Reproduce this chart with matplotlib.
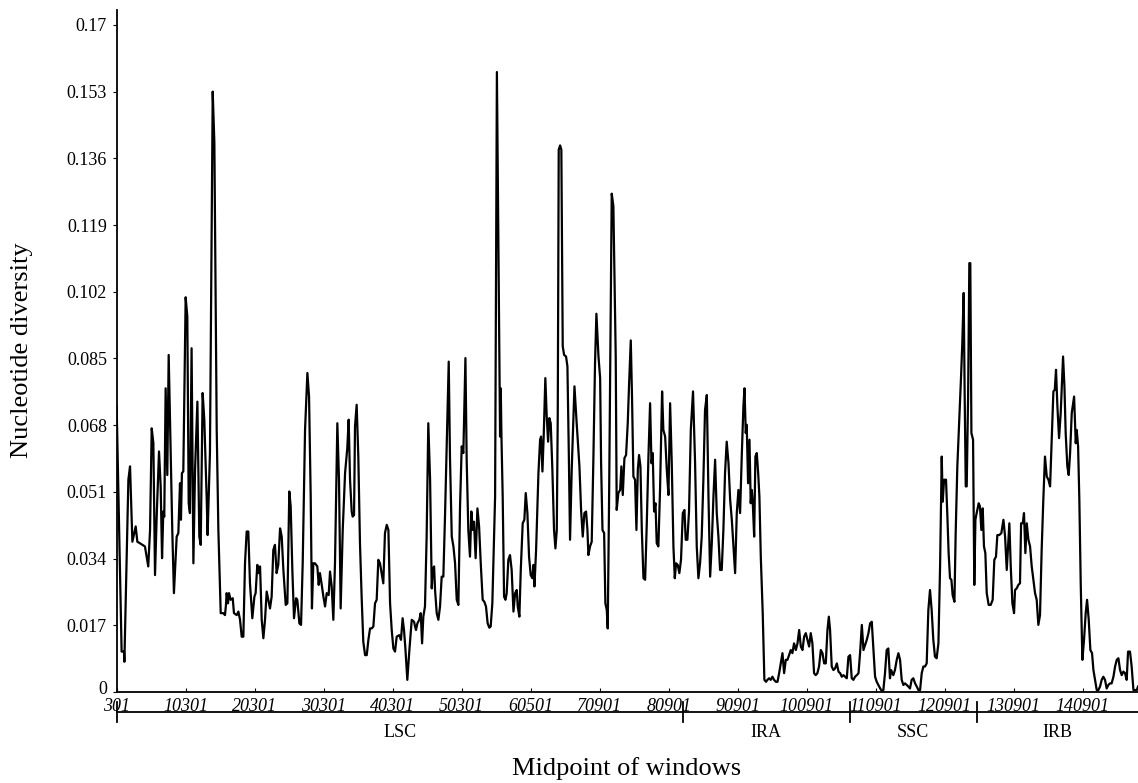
import matplotlib
matplotlib.use("Agg")
import matplotlib.pyplot as plt
import matplotlib.transforms as mtransforms

plt.rcParams['font.family'] = ['Liberation Serif', 'DejaVu Serif']

# window index (step = one sliding window) and nucleotide diversity (Pi)
window = [
    0, 3.6, 5.3, 5.6, 8.5, 9.7, 11.4, 12.8, 13.8, 15.0, 16.9, 20.5, 21.7, 22.9, 24.2, 25.4, 26.6, 27.8, 29.0, 30.7,
    31.9, 32.9, 33.8, 34.5, 35.5, 36.7, 37.7, 39.1, 40.3, 41.5, 43.5, 44.7, 45.9, 46.6, 47.3, 48.3, 50.0, 51.2, 52.2, 53.1,
    54.3, 55.6, 56.8, 58.5, 59.9, 60.9, 62.3, 63.5, 65.2, 65.9, 67.6, 69.6, 70.8, 72.5, 73.7, 75.4, 77.3, 78.5, 79.2, 79.7,
    80.7, 81.4, 82.6, 84.1, 85.0, 87.0, 88.2, 89.4, 90.6, 91.8, 93.0, 94.2, 95.4, 96.6, 98.3, 99.8, 100.7, 101.9, 102.9, 103.9,
    105.1, 106.3, 107.5, 108.7, 109.9, 111.1, 112.3, 113.5, 114.7, 115.9, 117.1, 118.4, 119.6, 120.8, 122.5, 123.7, 125.1, 126.1, 127.3, 128.5,
    130.0, 130.9, 132.4, 133.6, 134.8, 136.5, 138.2, 139.4, 140.6, 141.5, 142.5, 143.7, 145.4, 146.4, 147.3, 148.6, 149.8, 151.0, 152.2, 153.6,
    154.6, 155.8, 157.0, 158.2, 159.9, 161.1, 162.3, 163.8, 165.5, 167.1, 168.1, 169.1, 170.3, 171.0, 172.0, 172.7, 173.9, 175.1, 176.3, 177.5,
    178.7, 180.0, 181.2, 182.4, 183.6, 184.8, 186.0, 187.2, 188.4, 189.6, 190.8, 192.0, 193.2, 194.4, 195.7, 196.9, 198.1, 199.3, 200.5, 201.7,
    202.9, 204.8, 206.0, 207.2, 208.2, 209.2, 210.6, 212.1, 213.8, 215.5, 216.2, 216.9, 217.9, 219.3, 220.3, 221.3, 222.2, 223.4, 224.6, 225.8,
    227.1, 228.3, 229.0, 230.0, 230.7, 231.9, 233.1, 234.3, 235.5, 236.7, 237.9, 239.1, 240.6, 241.5, 242.8, 244.0, 245.2, 246.4, 247.6, 248.8,
    250.0, 251.2, 252.7, 253.6, 254.8, 256.0, 257.0, 258.0, 258.9, 260.1, 261.4, 262.6, 263.8, 265.2, 266.4, 267.6, 268.8, 270.0, 271.0, 272.2,
    274.2, 275.5, 277.8, 278.3, 278.8, 279.7, 280.7, 281.7, 282.6, 283.8, 285.0, 286.2, 287.5, 288.7, 289.9, 290.6, 291.8, 292.8, 294.2, 295.4,
    296.4, 297.6, 298.8, 300.0, 301.2, 302.0, 302.7, 303.9, 305.6, 306.8, 307.5, 308.5, 309.4, 310.6, 311.6, 312.6, 313.5, 314.5, 315.7, 316.9,
    317.9, 318.9, 319.6, 320.3, 321.3, 322.2, 323.2, 324.2, 325.6, 326.6, 327.6, 328.5, 329.7, 331.7, 333.3, 335.3, 336.5, 337.7, 338.9, 340.1,
    341.1, 341.8, 343.0, 344.2, 345.4, 346.6, 347.6, 349.1, 350.3, 351.0, 352.0, 353.2, 354.1, 355.1, 355.8, 356.8, 358.7, 359.9, 361.6, 362.3,
    363.5, 364.8, 365.7, 366.7, 367.9, 369.1, 370.3, 371.3, 372.5, 373.4, 374.4, 375.6, 376.6, 377.6, 378.5, 379.5, 380.5, 381.7, 382.9, 384.1,
    385.3, 386.5, 387.5, 388.4, 389.4, 390.4, 391.3, 392.5, 393.7, 395.2, 396.1, 397.4, 398.6, 399.8, 401.0, 402.2, 403.4, 404.4, 405.3, 406.5,
    407.7, 408.9, 410.2, 411.4, 412.3, 413.5, 414.7, 416.0, 417.6, 419.1, 420.3, 421.5, 422.7, 423.9, 425.1, 426.3, 427.6, 428.8, 430.0, 431.2,
    432.4, 433.6, 434.8, 436.0, 437.2, 438.4, 439.6, 440.8, 442.0, 443.3, 444.5, 445.7, 446.9, 448.1, 449.3, 450.5, 451.7, 452.9, 454.1, 454.9,
    455.8, 456.5, 457.5, 458.5, 459.4, 460.2, 460.9, 461.9, 462.8, 463.8, 464.8, 465.7, 466.7, 468.1, 469.3, 470.5, 471.5, 472.7, 473.9, 475.1,
    476.3, 477.6, 478.8, 480.0, 481.2, 482.4, 483.6, 484.8, 486.0, 487.2, 488.4, 489.6, 490.8, 492.1, 493.3, 494.5, 495.7, 496.9, 498.1, 499.3,
    500.5, 501.7, 502.9, 504.1, 505.3, 506.5, 507.7, 508.9, 510.2, 511.4, 512.6, 513.8, 515.0, 516.0, 516.9, 518.1, 519.3, 520.5, 521.8, 523.0,
    524.2, 525.4, 526.6, 527.8, 529.0, 530.2, 531.4, 532.6, 533.8, 535.0, 536.3, 537.5, 538.7, 539.9, 541.1, 542.3, 543.5, 544.7, 545.9, 547.1,
    548.3, 549.5, 550.7, 551.9, 553.2, 554.3, 555.5, 556.7, 557.9, 559.1, 560.3, 561.1, 562.0, 562.7, 563.9, 565.2, 566.4, 567.6, 568.8, 570.0,
    571.2, 572.4, 573.6, 574.8, 576.0, 577.2, 578.5, 579.7, 580.9, 582.1, 583.3, 584.5, 585.7, 586.9, 588.1, 589.3, 590.5, 591.7, 592.9, 594.1,
    595.4, 596.6, 597.3, 597.8, 598.5, 599.5, 600.9, 601.9, 602.8, 603.8, 604.8, 605.7, 607.0, 607.9, 609.1, 610.6, 611.8, 612.7, 613.7, 614.4,
    615.2, 615.9, 616.9, 617.8, 618.5, 619.3, 620.5, 621.4, 622.2, 623.1, 624.6, 625.5, 626.5, 627.5, 628.4, 629.4, 630.4, 631.8, 633.3, 634.7,
    635.9, 637.1, 638.1, 639.5, 641.0, 642.5, 643.7, 644.9, 646.1, 646.8, 647.8, 649.0, 650.2, 650.9, 652.1, 653.3, 654.5, 655.3, 656.5, 657.4,
    658.4, 659.4, 660.6, 661.8, 663.0, 664.2, 665.4, 666.6, 667.8, 669.0, 670.2, 671.4, 672.6, 673.9, 675.1, 676.3, 677.5, 678.7, 679.7, 680.6,
    681.6, 682.8, 684.0, 685.0, 685.7, 686.7, 687.6, 688.8, 689.8, 690.8, 692.0, 693.7, 694.9, 695.6, 696.6, 697.5, 698.5, 699.7, 700.9, 702.1,
    703.1, 704.3, 705.5, 706.7, 707.7, 708.9, 710.1, 711.3, 712.5, 713.7, 714.9, 716.1, 717.3, 718.5, 719.7, 720.9, 722.2, 723.4, 724.6, 725.8,
    727.0, 728.2, 729.4, 730.6, 731.8, 732.8, 734.2, 735.4, 736.7, 737.9, 739.1, 740.0,
]
pi = [
    0.0728, 0.0103, 0.0103, 0.0077, 0.0541, 0.0575, 0.0383, 0.0405, 0.0422, 0.0383, 0.0379, 0.0371, 0.0345, 0.0320, 0.0413, 0.0672, 0.0634, 0.0298, 0.0447, 0.0613,
    0.0524, 0.0341, 0.0460, 0.0447, 0.0774, 0.0553, 0.0859, 0.0617, 0.0413, 0.0252, 0.0396, 0.0405, 0.0532, 0.0439, 0.0558, 0.0562, 0.1006, 0.0957, 0.0481, 0.0456,
    0.0876, 0.0328, 0.0566, 0.0740, 0.0396, 0.0375, 0.0762, 0.0694, 0.0498, 0.0400, 0.0609, 0.1530, 0.1400, 0.0668, 0.0413, 0.0201, 0.0201, 0.0196, 0.0222, 0.0252,
    0.0226, 0.0252, 0.0235, 0.0239, 0.0201, 0.0196, 0.0205, 0.0184, 0.0141, 0.0141, 0.0328, 0.0409, 0.0409, 0.0277, 0.0188, 0.0243, 0.0252, 0.0324, 0.0303, 0.0320,
    0.0184, 0.0137, 0.0184, 0.0256, 0.0235, 0.0213, 0.0243, 0.0362, 0.0375, 0.0303, 0.0324, 0.0417, 0.0396, 0.0311, 0.0222, 0.0226, 0.0511, 0.0473, 0.0311, 0.0188,
    0.0239, 0.0235, 0.0175, 0.0171, 0.0328, 0.0668, 0.0813, 0.0753, 0.0498, 0.0213, 0.0328, 0.0328, 0.0320, 0.0273, 0.0303, 0.0273, 0.0243, 0.0218, 0.0252, 0.0247,
    0.0307, 0.0269, 0.0184, 0.0328, 0.0685, 0.0541, 0.0213, 0.0413, 0.0558, 0.0621, 0.0694, 0.0541, 0.0460, 0.0447, 0.0451, 0.0677, 0.0732, 0.0600, 0.0379, 0.0243,
    0.0128, 0.0094, 0.0094, 0.0133, 0.0162, 0.0162, 0.0167, 0.0226, 0.0235, 0.0337, 0.0328, 0.0303, 0.0277, 0.0405, 0.0426, 0.0413, 0.0226, 0.0158, 0.0111, 0.0103,
    0.0141, 0.0145, 0.0133, 0.0188, 0.0158, 0.0111, 0.0031, 0.0107, 0.0184, 0.0179, 0.0167, 0.0158, 0.0175, 0.0184, 0.0201, 0.0124, 0.0192, 0.0218, 0.0396, 0.0685,
    0.0541, 0.0264, 0.0311, 0.0320, 0.0260, 0.0201, 0.0184, 0.0218, 0.0294, 0.0294, 0.0447, 0.0626, 0.0842, 0.0600, 0.0396, 0.0371, 0.0328, 0.0235, 0.0222, 0.0473,
    0.0626, 0.0609, 0.0851, 0.0592, 0.0413, 0.0345, 0.0460, 0.0413, 0.0434, 0.0341, 0.0468, 0.0422, 0.0328, 0.0235, 0.0230, 0.0218, 0.0175, 0.0164, 0.0167, 0.0226,
    0.0498, 0.1580, 0.0651, 0.0774, 0.0651, 0.0498, 0.0243, 0.0235, 0.0252, 0.0337, 0.0349, 0.0311, 0.0205, 0.0252, 0.0260, 0.0218, 0.0192, 0.0311, 0.0430, 0.0439,
    0.0507, 0.0456, 0.0345, 0.0298, 0.0290, 0.0324, 0.0269, 0.0362, 0.0558, 0.0643, 0.0651, 0.0562, 0.0651, 0.0800, 0.0702, 0.0638, 0.0698, 0.0685, 0.0566, 0.0413,
    0.0366, 0.0413, 0.0711, 0.1382, 0.1393, 0.1382, 0.0881, 0.0859, 0.0855, 0.0830, 0.0609, 0.0388, 0.0566, 0.0779, 0.0685, 0.0575, 0.0464, 0.0396, 0.0456, 0.0460,
    0.0413, 0.0349, 0.0371, 0.0383, 0.0592, 0.0838, 0.0964, 0.0855, 0.0800, 0.0583, 0.0413, 0.0405, 0.0226, 0.0209, 0.0162, 0.0498, 0.1270, 0.1238, 0.0855, 0.0464,
    0.0507, 0.0515, 0.0575, 0.0502, 0.0596, 0.0604, 0.0685, 0.0787, 0.0896, 0.0753, 0.0549, 0.0541, 0.0413, 0.0566, 0.0604, 0.0575, 0.0413, 0.0290, 0.0286, 0.0430,
    0.0600, 0.0736, 0.0583, 0.0609, 0.0460, 0.0481, 0.0379, 0.0371, 0.0515, 0.0766, 0.0668, 0.0651, 0.0566, 0.0502, 0.0736, 0.0583, 0.0371, 0.0290, 0.0328, 0.0324,
    0.0303, 0.0337, 0.0456, 0.0464, 0.0388, 0.0388, 0.0460, 0.0668, 0.0766, 0.0583, 0.0371, 0.0290, 0.0328, 0.0396, 0.0541, 0.0719, 0.0757, 0.0498, 0.0294, 0.0379,
    0.0498, 0.0592, 0.0456, 0.0396, 0.0311, 0.0311, 0.0413, 0.0558, 0.0638, 0.0583, 0.0490, 0.0439, 0.0371, 0.0303, 0.0456, 0.0515, 0.0456, 0.0600, 0.0728, 0.0774,
    0.0660, 0.0681, 0.0532, 0.0643, 0.0481, 0.0515, 0.0481, 0.0396, 0.0600, 0.0609, 0.0558, 0.0498, 0.0345, 0.0201, 0.0031, 0.0026, 0.0031, 0.0035, 0.0031, 0.0039,
    0.0031, 0.0026, 0.0026, 0.0048, 0.0073, 0.0099, 0.0048, 0.0082, 0.0082, 0.0094, 0.0107, 0.0099, 0.0124, 0.0107, 0.0124, 0.0158, 0.0116, 0.0107, 0.0141, 0.0150,
    0.0133, 0.0116, 0.0150, 0.0124, 0.0048, 0.0043, 0.0048, 0.0065, 0.0107, 0.0099, 0.0073, 0.0073, 0.0158, 0.0192, 0.0158, 0.0065, 0.0056, 0.0060, 0.0073, 0.0052,
    0.0048, 0.0039, 0.0043, 0.0039, 0.0035, 0.0090, 0.0094, 0.0035, 0.0031, 0.0039, 0.0043, 0.0048, 0.0103, 0.0171, 0.0107, 0.0120, 0.0133, 0.0150, 0.0175, 0.0179,
    0.0107, 0.0039, 0.0026, 0.0018, 0.0009, 0.0003, 0.0005, 0.0048, 0.0107, 0.0111, 0.0035, 0.0056, 0.0048, 0.0043, 0.0056, 0.0082, 0.0099, 0.0082, 0.0031, 0.0018,
    0.0022, 0.0018, 0.0014, 0.0009, 0.0031, 0.0035, 0.0022, 0.0014, 0.0005, 0.0005, 0.0048, 0.0065, 0.0065, 0.0073, 0.0209, 0.0260, 0.0209, 0.0133, 0.0090, 0.0086,
    0.0124, 0.0320, 0.0490, 0.0600, 0.0485, 0.0541, 0.0541, 0.0447, 0.0354, 0.0290, 0.0286, 0.0247, 0.0230, 0.0405, 0.0575, 0.0702, 0.0804, 0.0889, 0.1017, 0.0762,
    0.0524, 0.0524, 0.0753, 0.1093, 0.1093, 0.0660, 0.0643, 0.0273, 0.0439, 0.0456, 0.0481, 0.0473, 0.0413, 0.0468, 0.0371, 0.0354, 0.0252, 0.0222, 0.0222, 0.0235,
    0.0337, 0.0345, 0.0400, 0.0400, 0.0405, 0.0439, 0.0396, 0.0311, 0.0388, 0.0430, 0.0320, 0.0226, 0.0201, 0.0260, 0.0264, 0.0273, 0.0277, 0.0430, 0.0430, 0.0456,
    0.0354, 0.0430, 0.0388, 0.0371, 0.0320, 0.0286, 0.0252, 0.0235, 0.0171, 0.0196, 0.0362, 0.0490, 0.0600, 0.0549, 0.0541, 0.0524, 0.0643, 0.0766, 0.0770, 0.0821,
    0.0728, 0.0647, 0.0711, 0.0796, 0.0855, 0.0779, 0.0660, 0.0575, 0.0553, 0.0609, 0.0711, 0.0753, 0.0634, 0.0668, 0.0626, 0.0490, 0.0277, 0.0082, 0.0133, 0.0201,
    0.0235, 0.0184, 0.0107, 0.0099, 0.0056, 0.0031, 0.0005, 0.0005, 0.0014, 0.0031, 0.0039, 0.0031, 0.0009, 0.0018, 0.0022, 0.0022, 0.0039, 0.0065, 0.0082, 0.0086,
    0.0056, 0.0043, 0.0052, 0.0048, 0.0031, 0.0103, 0.0103, 0.0065, 0.0005, 0.0005, 0.0005, 0.0014,
]

tick_pos = [0, 50, 100, 150, 200, 250, 300, 350, 400, 450, 500, 550, 600, 650, 700]
tick_labels = ["301", "10301", "20301", "30301", "40301", "50301", "60501", "70901",
               "80901", "90901", "100901", "110901", "120901", "130901", "140901"]
y_ticks = [0, 0.017, 0.034, 0.051, 0.068, 0.085, 0.102, 0.119, 0.136, 0.153, 0.17]
y_labels = ["0", "0.017", "0.034", "0.051", "0.068", "0.085", "0.102", "0.119", "0.136", "0.153", "0.17"]

regions = ["LSC", "IRA", "SSC", "IRB"]
region_edges = [0, 410, 531, 623, 740]

fig = plt.figure(figsize=(11.38, 7.83), dpi=100)
ax = fig.add_axes([0.1025, 0.1162, 0.8975, 0.8710])

ax.plot(window, pi, color="black", linewidth=1.6)

ax.set_xlim(0, 740)
ax.set_ylim(0, 0.1738)
ax.spines["top"].set_visible(False)
ax.spines["right"].set_visible(False)
ax.spines["left"].set_linewidth(1.3)
ax.spines["bottom"].set_linewidth(1.3)

ax.set_xticks(tick_pos)
ax.set_xticklabels(tick_labels, fontsize=13, style="italic")
ax.set_yticks(y_ticks)
ax.set_yticklabels(y_labels, fontsize=13)
ax.tick_params(axis="x", direction="in", length=3, pad=4)
ax.tick_params(axis="y", direction="out", length=3, pad=4)

# lift the "0" a little so it does not run into "301"
zero_lbl = ax.get_yticklabels()[0]
zero_lbl.set_transform(zero_lbl.get_transform() +
                       mtransforms.ScaledTranslation(0, 5 / 100, fig.dpi_scale_trans))

fig.text(0.0193, 0.5524, "Nucleotide diversity", rotation=90, fontsize=19,
         ha="center", va="center")
fig.text(0.551, 0.019, "Midpoint of windows", fontsize=19, ha="center", va="center")

# region bar under the axis
trans = mtransforms.blended_transform_factory(ax.transData, ax.transAxes)
ax.plot([region_edges[0], region_edges[-1]], [-0.0293, -0.0293], color="black",
        linewidth=1.3, transform=trans, clip_on=False)
for e in region_edges[:-1]:
    ax.plot([e, e], [-0.0147, -0.044], color="black", linewidth=1.3,
            transform=trans, clip_on=False)
for name, a, b in zip(regions, region_edges[:-1], region_edges[1:]):
    ax.text((a + b) / 2, -0.06, name, transform=trans, ha="center", va="center",
            fontsize=13)

fig.savefig("out.png", dpi=100)
